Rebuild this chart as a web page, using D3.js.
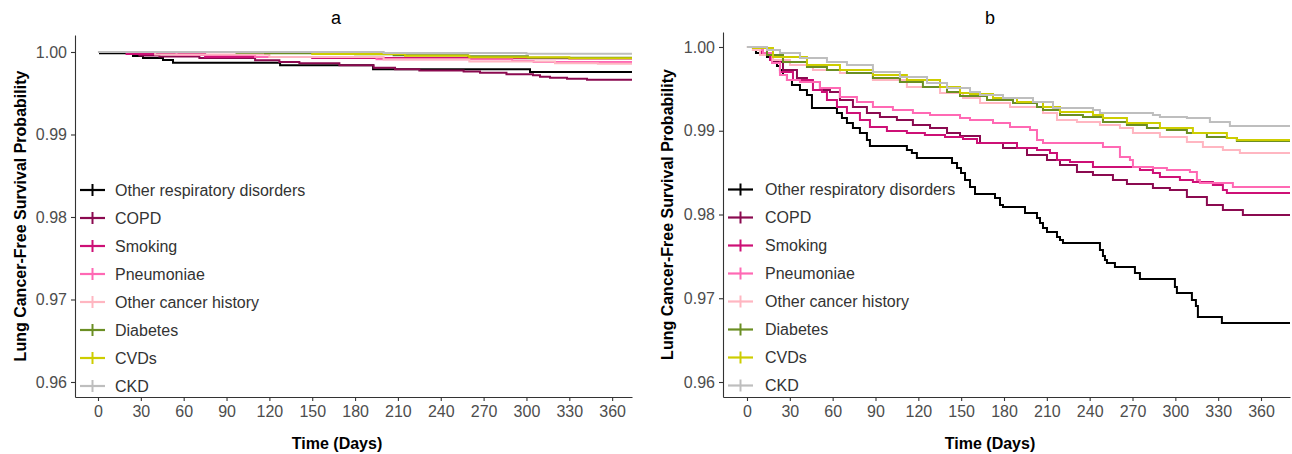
<!DOCTYPE html>
<html>
<head>
<meta charset="utf-8">
<script src="https://cdn.jsdelivr.net/npm/d3@7"></script>
<style>
  html, body { margin: 0; padding: 0; background: #ffffff; }
  svg { display: block; font-family: "Liberation Sans", Arial, sans-serif; }
</style>
</head>
<body>
<svg id="chart" width="1292" height="454"></svg>
<script>
// ---------------- DATA ----------------
const categories = ["Other respiratory disorders", "COPD", "Smoking", "Pneumoniae",
  "Other cancer history", "Diabetes", "CVDs", "CKD"];
const seriesColors = ["#000000", "#8B0A50", "#CD1076", "#FF69B4", "#FFB6C1", "#6B8E23", "#CDCD00", "#BEBEBE"];
const xTicks = [0, 30, 60, 90, 120, 150, 180, 210, 240, 270, 300, 330, 360];
const yTicks = [0.96, 0.97, 0.98, 0.99, 1.00];
const panelTitles = ["a", "b"];
const xTitle = "Time (Days)";
const yTitle = "Lung Cancer-Free Survival Probability";

// Panel a: [day, survival]
const aOtherResp = [[0,1],[1.4,0.99984],[24.5,0.99952],[31.5,0.99927],[45.5,0.99903],[52.5,0.9987],[127.5,0.99839],[192.6,0.99792],[302.5,0.99758]];
const aCOPD = [[0,1],[29,0.99958],[43,0.99945],[71,0.99927],[110,0.99899],[127,0.99879],[141,0.99863],[169,0.99839],[193,0.9981],[208,0.9979],[225,0.99776],[256,0.99764],[267.5,0.99749],[286,0.9973],[304.6,0.99718],[309.5,0.997],[316.5,0.99688],[328.4,0.99676],[342.4,0.99664]];
const aSmoking = [[0,1],[20,0.99975],[75,0.9994],[150,0.99928],[260,0.99924],[330,0.9992]];
const aPneumoniae = [[0,1],[55,0.99965],[110,0.9994],[195,0.99912],[290,0.99891],[305,0.99879]];
const aOtherCancer = [[0,1],[40,0.9997],[120,0.9994],[200,0.9991],[260,0.99885],[320,0.99865],[350,0.99858]];
const aDiabetes = [[0,1],[97,0.99992],[117,0.99984],[180,0.99972],[207,0.9996],[259,0.99948],[301,0.99931]];
const aCVDs = [[0,1],[150,0.99975],[215,0.99955],[260,0.99935],[330,0.99925]];
const aCKD = [[0,1],[200,0.99988],[300,0.9998]];

// Panel b: [day, survival]
const bOtherResp = [[0,1],[4.2,0.99964],[6.3,0.99928],[14,0.99881],[17.5,0.99845],[21,0.99773],[23.1,0.99725],[25.2,0.99666],[28,0.99606],[31.5,0.99546],[37.1,0.99487],[42,0.99427],[45.5,0.99272],[63,0.99212],[66.5,0.99152],[70,0.99093],[74.2,0.99033],[79.1,0.98973],[84,0.9889],[86.1,0.98818],[112,0.9877],[115.5,0.98734],[119,0.98675],[143.6,0.98615],[147.1,0.98555],[149.9,0.98496],[152.7,0.98412],[156.2,0.98328],[159.7,0.98245],[173.7,0.98197],[177.2,0.98113],[179.3,0.9809],[194.7,0.98018],[203.1,0.97958],[205.2,0.97899],[207.3,0.97839],[210.1,0.97791],[217.1,0.97731],[219.2,0.97696],[221.3,0.9766],[247.2,0.97576],[249.3,0.97504],[250.7,0.97457],[252.1,0.97421],[257.7,0.97373],[271.7,0.97301],[275.2,0.9723],[299.7,0.97134],[301.1,0.97063],[311.6,0.96979],[314.4,0.96907],[315.8,0.96776],[332.6,0.96704]];
const bCOPD = [[0,1],[4.2,0.99964],[11.2,0.99904],[18.2,0.99821],[25.2,0.99725],[35,0.9963],[42,0.99582],[51.1,0.99487],[58.1,0.99463],[65.1,0.99367],[74.2,0.99284],[84,0.99212],[93.1,0.99164],[105,0.99128],[116.2,0.99069],[128.2,0.99033],[140.1,0.98973],[149.2,0.98937],[163.2,0.98854],[179.3,0.98794],[196.1,0.9871],[210.1,0.98651],[219.2,0.98591],[231.1,0.98507],[242.3,0.98472],[256.3,0.98412],[266.1,0.98364],[284.3,0.98316],[296.2,0.98293],[308.1,0.98209],[322.1,0.98113],[333.3,0.98054],[347.3,0.97994]];
const bSmoking = [[0,1],[4.2,0.99964],[10.5,0.99904],[16.1,0.99845],[23.1,0.99701],[32.2,0.99606],[46.2,0.99487],[52.5,0.99463],[56,0.99367],[63,0.99284],[70,0.99212],[79.1,0.99128],[86.1,0.99045],[98,0.98997],[112,0.98973],[124.6,0.98949],[138.7,0.98925],[151.3,0.98901],[161.1,0.98854],[189.1,0.98794],[203.1,0.9877],[212.2,0.98734],[217.1,0.98651],[226.2,0.98627],[242.3,0.98567],[275.2,0.98531],[284.3,0.98496],[289.2,0.98448],[303.2,0.98412],[312.3,0.98388],[326.3,0.98352],[333.3,0.98293],[336.1,0.98257]];
const bPneumoniae = [[0,1],[4.2,0.99964],[11.2,0.99928],[17.5,0.99809],[23.1,0.99666],[28,0.99606],[37.1,0.99582],[51.1,0.9951],[65.1,0.99403],[77,0.99343],[88.2,0.99284],[102.2,0.99248],[116.2,0.99212],[128.2,0.99188],[149.2,0.99152],[156.2,0.99128],[172.3,0.99093],[184.2,0.99045],[198.2,0.99009],[203.1,0.9889],[207.3,0.98854],[249.3,0.98806],[261.2,0.98687],[268.2,0.98651],[270.3,0.98567],[284.3,0.98555],[294.1,0.98531],[310.2,0.98507],[315.1,0.98412],[317.2,0.98376],[340.3,0.98328]];
const bOtherCancer = [[0,1],[4.2,0.99964],[9.1,0.99904],[18.2,0.99845],[30.1,0.99785],[46.2,0.99725],[65.1,0.9969],[88.2,0.99606],[112,0.99522],[135.2,0.99451],[151.3,0.99391],[163.2,0.99331],[184.2,0.99284],[207.3,0.99212],[217.1,0.99128],[231.1,0.99104],[247.2,0.99069],[261.2,0.99033],[270.3,0.98973],[289.2,0.98925],[308.1,0.98866],[319.3,0.98806],[333.3,0.9877],[345.2,0.98734]];
const bDiabetes = [[0,1],[4.2,0.99988],[14,0.99904],[25.2,0.99821],[42,0.99761],[56,0.99725],[70,0.9969],[88.2,0.9963],[107.1,0.99582],[123.2,0.99522],[140.1,0.99463],[149.2,0.99415],[168.1,0.99367],[186.3,0.99331],[203.1,0.99284],[207.3,0.99248],[219.2,0.99188],[235.3,0.99164],[249.3,0.99104],[266.1,0.99069],[280.1,0.99033],[294.1,0.99009],[308.1,0.98973],[322.1,0.98925],[336.1,0.98913],[343.1,0.98878]];
const bCVDs = [[0,1],[4.2,0.99988],[18.2,0.99881],[42,0.99785],[65.1,0.99725],[88.2,0.99666],[112,0.99606],[135.2,0.99522],[149.2,0.99451],[156.2,0.99439],[172.3,0.99391],[189.1,0.99343],[207.3,0.99284],[219.2,0.99224],[242.3,0.99188],[249.3,0.99152],[266.1,0.99093],[289.2,0.99033],[312.3,0.98973],[336.1,0.98913],[343.1,0.9889]];
const bCKD = [[0,1],[14,0.99964],[23.1,0.99928],[37.1,0.99869],[56,0.99821],[70,0.99785],[88.2,0.99701],[107.1,0.99642],[126.1,0.9957],[140.1,0.9951],[156.2,0.99463],[163.2,0.99427],[179.3,0.99391],[200.3,0.99343],[214.3,0.99272],[242.3,0.99248],[247.2,0.99212],[284.3,0.99188],[289.2,0.99164],[308.1,0.99152],[324.2,0.99104],[338.2,0.99057]];

// ---------------- LAYOUT ----------------
const panels = [
  { id: "a", series: [aOtherResp, aCOPD, aSmoking, aPneumoniae, aOtherCancer, aDiabetes, aCVDs, aCKD],
    xDomain: [-16.1, 373.9], xRange: [75, 632], yDomain: [0.95818, 1.00206], yRange: [397, 35],
    titleX: 336, yTitleX: 26, legendKeyX: 80, legendTextX: 115, legendY: 190, xTitleX: 337 },
  { id: "b", series: [bOtherResp, bCOPD, bSmoking, bPneumoniae, bOtherCancer, bDiabetes, bCVDs, bCKD],
    xDomain: [-16.8, 380.3], xRange: [723, 1290], yDomain: [0.95821, 1.00179], yRange: [397, 32],
    titleX: 990, yTitleX: 673, legendKeyX: 728, legendTextX: 765, legendY: 189.5, xTitleX: 990 }
];

const svg = d3.select("#chart");
const FONT = '"Liberation Sans", Arial, sans-serif';

panels.forEach((p, pi) => {
  const x = d3.scaleLinear().domain(p.xDomain).range(p.xRange);
  const y = d3.scaleLinear().domain(p.yDomain).range(p.yRange);
  const g = svg.append("g");

  const clipId = "clip-" + p.id;
  g.append("clipPath").attr("id", clipId).append("rect")
    .attr("x", p.xRange[0]).attr("y", p.yRange[1])
    .attr("width", p.xRange[1] - p.xRange[0]).attr("height", p.yRange[0] - p.yRange[1]);

  // curves
  const line = d3.line().x(d => x(d[0])).y(d => y(d[1])).curve(d3.curveStepAfter);
  const curves = g.append("g").attr("clip-path", `url(#${clipId})`);
  p.series.forEach((s, i) => {
    const pts = s.concat([[p.xDomain[1], s[s.length - 1][1]]]);
    curves.append("path").datum(pts)
      .attr("d", line)
      .attr("fill", "none")
      .attr("stroke", seriesColors[i])
      .attr("stroke-width", 2)
      .attr("stroke-linejoin", "miter");
  });

  // axes
  const yAxis = d3.axisLeft(y).tickValues(yTicks).tickFormat(d3.format(".2f"))
    .tickSize(4).tickSizeOuter(0).tickPadding(4);
  const xAxis = d3.axisBottom(x).tickValues(xTicks).tickFormat(d3.format("d"))
    .tickSize(4).tickSizeOuter(0).tickPadding(5);

  const ya = g.append("g").attr("transform", `translate(${p.xRange[0]},0)`).call(yAxis);
  const xa = g.append("g").attr("transform", `translate(0,${p.yRange[0]})`).call(xAxis);
  [ya, xa].forEach(a => {
    a.select(".domain").attr("stroke", "#333333").attr("stroke-width", 1.1);
    a.selectAll(".tick line").attr("stroke", "#333333").attr("stroke-width", 1.1);
    a.selectAll(".tick text").attr("fill", "#4D4D4D")
      .style("font-size", "16px").style("font-family", FONT);
  });

  // panel title
  g.append("text").attr("x", p.titleX).attr("y", 24)
    .attr("text-anchor", "middle").style("font-size", "18px").attr("fill", "#000")
    .text(panelTitles[pi]);

  // axis titles
  g.append("text").attr("x", p.xTitleX).attr("y", 449)
    .attr("text-anchor", "middle").style("font-size", "16px").style("font-weight", "bold")
    .attr("fill", "#000").text(xTitle);
  g.append("text")
    .attr("transform", `translate(${p.yTitleX},${(p.yRange[0] + p.yRange[1]) / 2}) rotate(-90)`)
    .attr("text-anchor", "middle").style("font-size", "16px").style("font-weight", "bold")
    .attr("fill", "#000").text(yTitle);

  // legend
  const lg = g.append("g");
  categories.forEach((c, i) => {
    const ly = p.legendY + i * 28;
    lg.append("line").attr("x1", p.legendKeyX).attr("x2", p.legendKeyX + 25)
      .attr("y1", ly).attr("y2", ly).attr("stroke", seriesColors[i]).attr("stroke-width", 2.2);
    lg.append("line").attr("x1", p.legendKeyX + 12.5).attr("x2", p.legendKeyX + 12.5)
      .attr("y1", ly - 6).attr("y2", ly + 6).attr("stroke", seriesColors[i]).attr("stroke-width", 2);
    lg.append("text").attr("x", p.legendTextX).attr("y", ly)
      .attr("dominant-baseline", "central")
      .style("font-size", "16px").attr("fill", "#333333").text(c);
  });
});
</script>
</body>
</html>
